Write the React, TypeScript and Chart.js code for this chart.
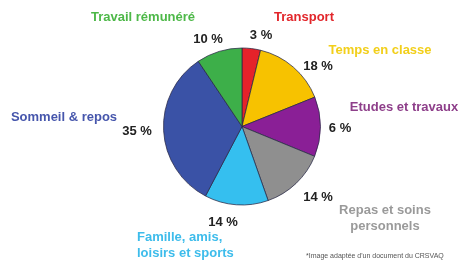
import React, { useEffect, useRef } from "react";
import { Chart, registerables } from "chart.js";

Chart.register(...registerables);

// ---- data ----
const CATEGORIES = [
  "Transport",
  "Temps en classe",
  "Etudes et travaux",
  "Repas et soins\npersonnels",
  "Famille, amis,\nloisirs et sports",
  "Sommeil & repos",
  "Travail rémunéré",
];
// slice sizes as drawn in the picture (%)
const SLICE_VALUES = [3.8, 15.1, 12.3, 13.4, 13.1, 32.9, 9.4];
// percentages printed beside the slices
const PERCENT_LABELS = ["3 %", "18 %", "6 %", "14 %", "14 %", "35 %", "10 %"];
const FOOTNOTE = "*Image adaptée d'un document du CRSVAQ";

// ---- styles ----
const SLICE_COLORS = ["#E5222A", "#F7C200", "#8A1F96", "#8F8F8F", "#35BFEF", "#3A52A6", "#3DAF49"];
const TEXT_COLORS = ["#E2262B", "#F2CF1A", "#8E3F8A", "#9A9A9A", "#3DBCEB", "#4656AC", "#4DB848"];

// ---- layout (text positions) ----
const NAME_POS: [number, number, CanvasTextAlign][] = [
  [304, 17, "center"],
  [380, 50, "center"],
  [404, 107, "center"],
  [385, 210, "center"],
  [137, 237, "left"],
  [64, 117, "center"],
  [143, 17, "center"],
];
const PCT_POS: [number, number][] = [
  [261, 35],
  [318, 66],
  [340, 128],
  [318, 197],
  [223, 222],
  [137, 131],
  [208, 39],
];

const labelsPlugin = {
  id: "sliceLabels",
  afterDraw(chart: any) {
    const ctx: CanvasRenderingContext2D = chart.ctx;
    ctx.save();
    ctx.textBaseline = "middle";
    CATEGORIES.forEach((name, i) => {
      const [x, y, align] = NAME_POS[i];
      ctx.font = "bold 13px 'Liberation Sans', Arial, sans-serif";
      ctx.fillStyle = TEXT_COLORS[i];
      ctx.textAlign = align;
      name.split("\n").forEach((line, j) => ctx.fillText(line, x, y + j * 16));
      ctx.font = "bold 13px 'Liberation Sans', Arial, sans-serif";
      ctx.fillStyle = "#222222";
      ctx.textAlign = "center";
      ctx.fillText(PERCENT_LABELS[i], PCT_POS[i][0], PCT_POS[i][1]);
    });
    ctx.font = "7px 'Liberation Sans', Arial, sans-serif";
    ctx.fillStyle = "#555555";
    ctx.textAlign = "left";
    ctx.fillText(FOOTNOTE, 306, 256);
    ctx.restore();
  },
};

export default function App() {
  const canvasRef = useRef<HTMLCanvasElement | null>(null);

  useEffect(() => {
    if (!canvasRef.current) return;
    const chart = new Chart(canvasRef.current, {
      type: "pie",
      data: {
        labels: CATEGORIES,
        datasets: [
          {
            data: SLICE_VALUES,
            backgroundColor: SLICE_COLORS,
            borderColor: "rgba(40,40,70,0.75)",
            borderWidth: 1,
          },
        ],
      },
      options: {
        responsive: false,
        animation: false,
        layout: { padding: { left: 163, right: 143, top: 47, bottom: 64 } },
        plugins: {
          legend: { display: false },
          tooltip: { enabled: false },
        },
      },
      plugins: [labelsPlugin],
    });
    return () => chart.destroy();
  }, []);

  return (
    <div style={{ position: "fixed", left: 0, top: 0, width: 464, height: 270, background: "#ffffff" }}>
      <canvas ref={canvasRef} width={464} height={270} style={{ width: 464, height: 270 }} />
    </div>
  );
}
